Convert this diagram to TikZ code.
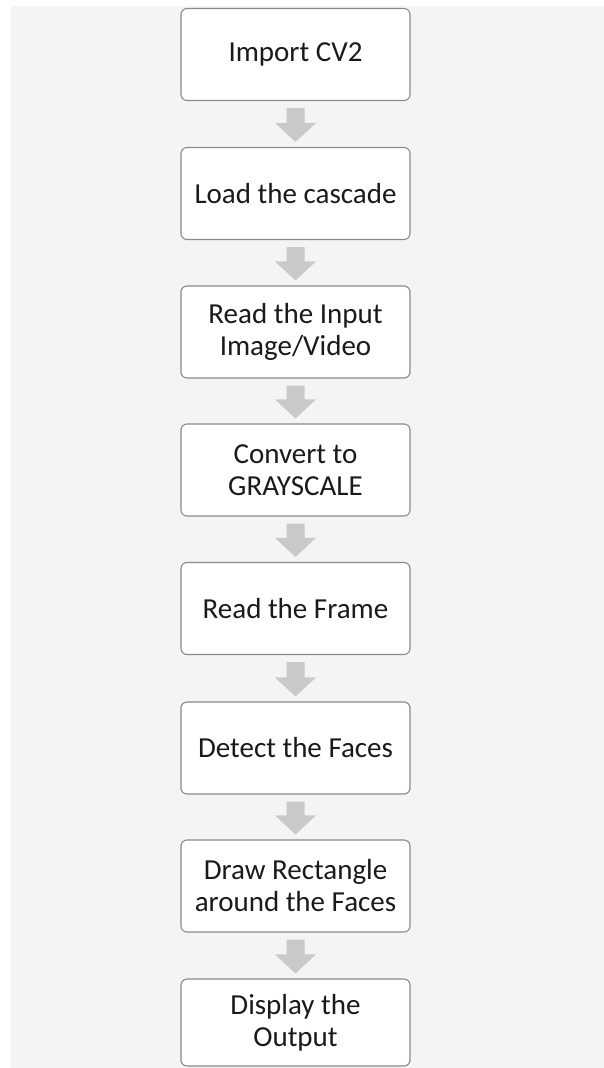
\documentclass[tikz,border=0pt]{standalone}
\usepackage{fontspec}
\setmainfont{Carlito}
\usetikzlibrary{calc}
\definecolor{bggray}{HTML}{F4F4F4}
\definecolor{boxline}{HTML}{8A8A8A}
\definecolor{arrowc}{HTML}{C9C9C9}
\definecolor{txt}{HTML}{1A1A1A}
\tikzset{
  stepbox/.style={draw=boxline, line width=1.1pt, fill=white, rounded corners=6pt,
    minimum width=229pt, minimum height=92pt, align=center, text=txt,
    font=\fontsize{29}{32}\selectfont, inner sep=0pt},
}
\newcommand\blockarrow[2]{%
  \path let \p1=(#1.south), \p2=(#2.north) in
    [fill=arrowc] (\x1-9pt,\y1-7pt) -- (\x1+9pt,\y1-7pt) -- (\x1+9pt,\y2+24pt)
    -- (\x1+20.5pt,\y2+24pt) -- (\x1,\y2+5pt) -- (\x1-20.5pt,\y2+24pt)
    -- (\x1-9pt,\y2+24pt) -- cycle;}
\begin{document}
\begin{tikzpicture}[x=1pt,y=-1pt]
\useasboundingbox (0,0) rectangle (604,1068);
\fill[bggray] (11,6) rectangle (604,1068);
\node[stepbox] (n1) at (295.5,54.5) {Import CV2};
\node[stepbox] (n2) at (295.5,193.5) {Load the cascade};
\node[stepbox] (n3) at (295.5,332) {Read the Input\\Image/Video};
\node[stepbox] (n4) at (295.5,470) {Convert to\\GRAYSCALE};
\node[stepbox] (n5) at (295.5,608.5) {Read the Frame};
\node[stepbox] (n6) at (295.5,748) {Detect the Faces};
\node[stepbox] (n7) at (295.5,886) {Draw Rectangle\\around the Faces};
\node[stepbox, minimum height=87pt] (n8) at (295.5,1022.5) {Display the\\Output};
\blockarrow{n1}{n2}
\blockarrow{n2}{n3}
\blockarrow{n3}{n4}
\blockarrow{n4}{n5}
\blockarrow{n5}{n6}
\blockarrow{n6}{n7}
\blockarrow{n7}{n8}
\end{tikzpicture}
\end{document}
